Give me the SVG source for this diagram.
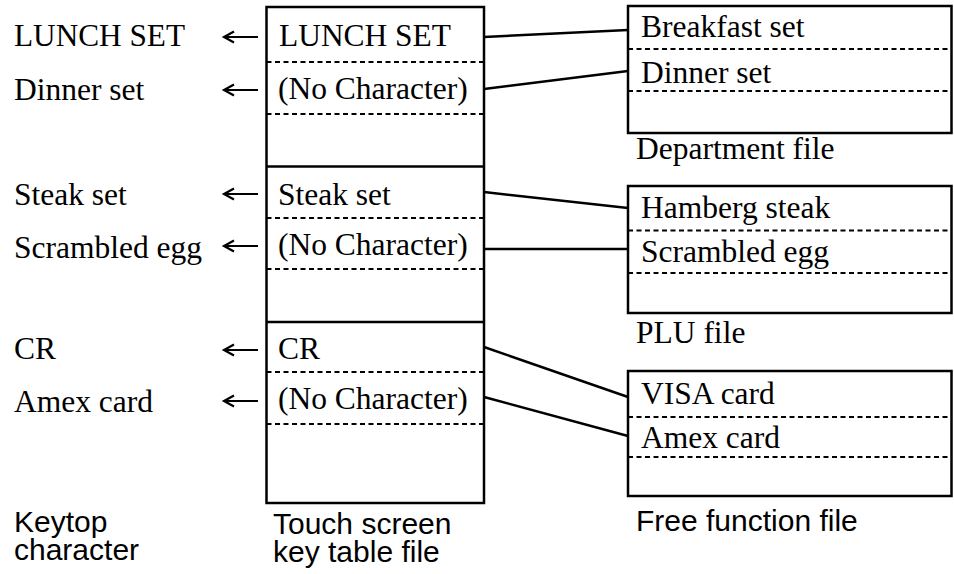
<svg xmlns="http://www.w3.org/2000/svg" width="954" height="574" viewBox="0 0 954 574">
<style>
.s{font-family:"Liberation Serif","Times New Roman",serif;font-size:31.5px;fill:#000}
.a{font-family:"Liberation Sans",Arial,sans-serif;font-size:30px;fill:#000}
.box{fill:#fff;stroke:#000;stroke-width:2.5}
.d{stroke:#000;stroke-width:2;stroke-dasharray:5 3.5;fill:none}
.c{stroke:#000;stroke-width:2.5;fill:none}
.ar{stroke:#000;stroke-width:2.2;fill:none}
</style>
<g id="keytop">
<text class="s" x="14" y="46" textLength="171" lengthAdjust="spacingAndGlyphs">LUNCH SET</text>
<text class="s" x="14" y="100">Dinner set</text>
<text class="s" x="14" y="205">Steak set</text>
<text class="s" x="14" y="258">Scrambled egg</text>
<text class="s" x="14" y="359">CR</text>
<text class="s" x="14" y="412">Amex card</text>
<text class="a" x="14" y="532"><tspan x="14">Keytop</tspan><tspan x="14" dy="28">character</tspan></text>
</g>
<g id="touch-table">
<rect class="box" x="266.5" y="7" width="217.5" height="496"/>
<line class="c" x1="266.5" y1="166.5" x2="484" y2="166.5"/>
<line class="c" x1="266.5" y1="322" x2="484" y2="322"/>
<line class="d" x1="266.5" y1="62" x2="484" y2="62"/>
<line class="d" x1="266.5" y1="114" x2="484" y2="114"/>
<line class="d" x1="266.5" y1="218" x2="484" y2="218"/>
<line class="d" x1="266.5" y1="269" x2="484" y2="269"/>
<line class="d" x1="266.5" y1="372" x2="484" y2="372"/>
<line class="d" x1="266.5" y1="424" x2="484" y2="424"/>
<text class="s" x="279" y="46" textLength="172" lengthAdjust="spacingAndGlyphs">LUNCH SET</text>
<text class="s" x="278" y="99">(No Character)</text>
<text class="s" x="278" y="205">Steak set</text>
<text class="s" x="278" y="255">(No Character)</text>
<text class="s" x="278" y="359">CR</text>
<text class="s" x="278" y="409">(No Character)</text>
<text class="a" x="273" y="534"><tspan x="273">Touch screen</tspan><tspan x="273" dy="28">key table file</tspan></text>
</g>
<g id="department-file">
<rect class="box" x="628" y="6" width="323.5" height="127"/>
<line class="d" x1="628" y1="49" x2="951.5" y2="49"/>
<line class="d" x1="628" y1="91" x2="951.5" y2="91"/>
<text class="s" x="641" y="37">Breakfast set</text>
<text class="s" x="641" y="83">Dinner set</text>
<text class="s" x="636" y="159">Department file</text>
</g>
<g id="plu-file">
<rect class="box" x="628" y="186" width="323.5" height="127"/>
<line class="d" x1="628" y1="230.5" x2="951.5" y2="230.5"/>
<line class="d" x1="628" y1="273" x2="951.5" y2="273"/>
<text class="s" x="641" y="218">Hamberg steak</text>
<text class="s" x="641" y="262">Scrambled egg</text>
<text class="s" x="636" y="343">PLU file</text>
</g>
<g id="free-function-file">
<rect class="box" x="628" y="371" width="323.5" height="125"/>
<line class="d" x1="628" y1="417" x2="951.5" y2="417"/>
<line class="d" x1="628" y1="457" x2="951.5" y2="457"/>
<text class="s" x="641" y="404">VISA card</text>
<text class="s" x="641" y="448">Amex card</text>
<text class="a" x="636" y="531">Free function file</text>
</g>
<g id="connectors">
<path class="ar" d="M258 37H224M234 31.5L224 37L234 42.5"/>
<path class="ar" d="M258 90H224M234 84.5L224 90L234 95.5"/>
<path class="ar" d="M258 194H224M234 188.5L224 194L234 199.5"/>
<path class="ar" d="M258 246H224M234 240.5L224 246L234 251.5"/>
<path class="ar" d="M258 350H224M234 344.5L224 350L234 355.5"/>
<path class="ar" d="M258 401H224M234 395.5L224 401L234 406.5"/>
<line class="c" x1="484" y1="37" x2="628" y2="30"/>
<line class="c" x1="484" y1="89" x2="628" y2="71"/>
<line class="c" x1="484" y1="192" x2="628" y2="208"/>
<line class="c" x1="484" y1="249" x2="628" y2="249"/>
<line class="c" x1="484" y1="347" x2="628" y2="397"/>
<line class="c" x1="484" y1="397" x2="628" y2="436"/>
</g>
</svg>
